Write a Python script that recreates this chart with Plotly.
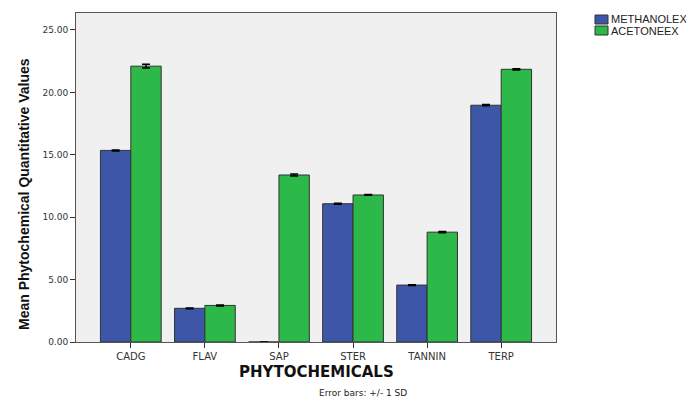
import plotly.graph_objects as go

categories = ["CADG", "FLAV", "SAP", "STER", "TANNIN", "TERP"]
methanol = [15.35, 2.70, 0.0, 11.08, 4.56, 18.97]
methanol_sd = [0.04, 0.03, 0.0, 0.04, 0.03, 0.05]
acetone = [22.10, 2.93, 13.38, 11.78, 8.80, 21.85]
acetone_sd = [0.15, 0.04, 0.08, 0.03, 0.05, 0.05]
y_ticks = [0, 5, 10, 15, 20, 25]
series_names = ["METHANOLEX", "ACETONEEX"]
series_colors = ["#3d56a8", "#2db84a"]

OFF = 8  # page body margin
W, H = 694 - OFF, 398 - OFF
L, R, T, B = 76 - OFF, 138, 13 - OFF, 56
PW, PH = W - L - R, H - T - B


def px(xp):  # page x -> paper
    return (xp - OFF - L) / PW


def py(yp):  # page y -> paper
    return (H - B - (yp - OFF)) / PH


fig = go.Figure()
for name, vals, sd, col in [(series_names[0], methanol, methanol_sd, series_colors[0]),
                            (series_names[1], acetone, acetone_sd, series_colors[1])]:
    fig.add_trace(go.Bar(
        name=name, x=categories, y=vals,
        marker=dict(color=col, line=dict(color="#333333", width=1)),
        error_y=dict(type="data", array=sd, color="black", thickness=1.5, width=4),
        showlegend=False,
    ))

fig.update_layout(
    width=W, height=H,
    margin=dict(l=L, r=R, t=T, b=B, autoexpand=False),
    paper_bgcolor="white", plot_bgcolor="#f0f0f0",
    barmode="group", bargap=0.18, bargroupgap=0,
    font=dict(family="Liberation Sans, Arial, sans-serif", color="#222222"),
    showlegend=False,
    xaxis=dict(
        type="category", range=[-0.74, 5.74], automargin=False,
        showline=True, linecolor="#555555", linewidth=1, mirror=True,
        ticks="outside", ticklen=5, tickcolor="#333333",
        tickfont=dict(size=10, family="DejaVu Sans, sans-serif", color="#333333"),
        showgrid=False,
    ),
    yaxis=dict(
        range=[0, 26.36], automargin=False,
        tickvals=y_ticks, ticktext=[f"{v:.2f}" for v in y_ticks],
        showline=True, linecolor="#555555", linewidth=1, mirror=True,
        ticks="outside", ticklen=5, tickcolor="#333333",
        tickfont=dict(size=9, family="DejaVu Sans, sans-serif", color="#333333"),
        showgrid=False, zeroline=False,
    ),
)

# axis titles
fig.add_annotation(
    text="<b>PHYTOCHEMICALS</b>", xref="paper", yref="paper",
    x=px(316), y=py(372), xanchor="center", yanchor="middle", showarrow=False,
    font=dict(size=15, family="DejaVu Sans, sans-serif", color="#111111"),
)
fig.add_annotation(
    text="<b>Mean Phytochemical Quantitative Values</b>", xref="paper", yref="paper",
    x=px(24), y=py(194), xanchor="center", yanchor="middle", showarrow=False,
    textangle=-90,
    font=dict(size=14, family="Liberation Sans Narrow, Arial Narrow, sans-serif", color="#111111"),
)

# legend drawn in the top-right corner
for i, (name, col) in enumerate(zip(series_names, series_colors)):
    y0 = 15 + i * 11
    fig.add_shape(type="rect", xref="paper", yref="paper",
                  x0=px(595), x1=px(608), y0=py(y0 + 9), y1=py(y0),
                  fillcolor=col, line=dict(color="#333333", width=1))
    fig.add_annotation(text=name, xref="paper", yref="paper",
                       x=px(609), y=py(y0 + 4.5),
                       xanchor="left", yanchor="middle", showarrow=False,
                       font=dict(size=11, color="#222222"))

fig.add_annotation(
    text="Error bars: +/- 1 SD", xref="paper", yref="paper",
    x=px(363), y=py(393), xanchor="center", yanchor="middle",
    showarrow=False, font=dict(size=9, family="DejaVu Sans, sans-serif", color="#222222"),
)
fig.write_html("out.html")
